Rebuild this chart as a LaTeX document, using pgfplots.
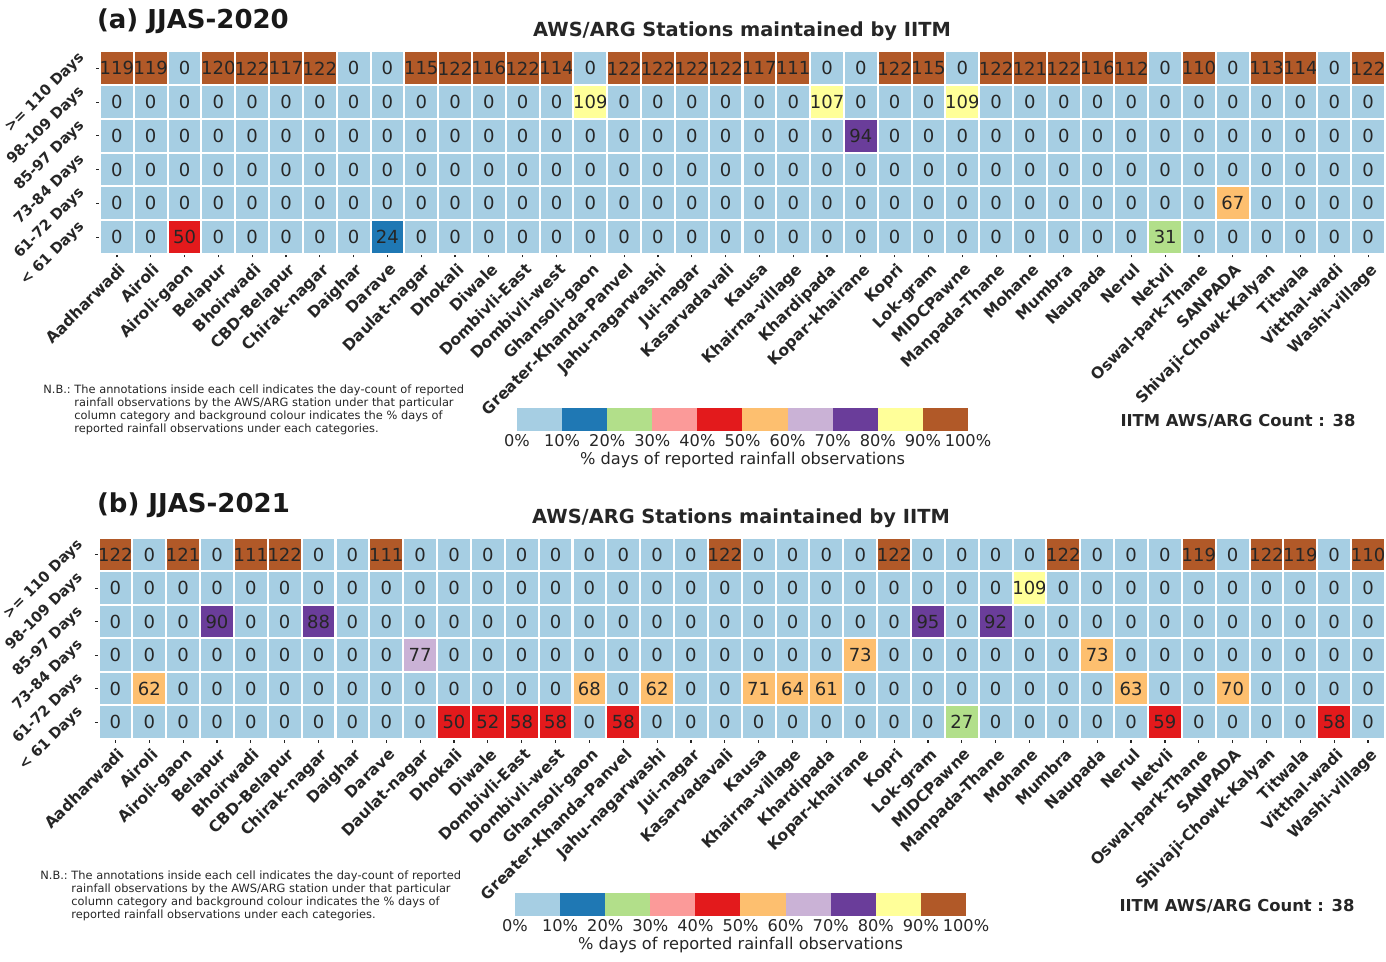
\documentclass[border=0pt]{standalone}
\usepackage{pgfplots}
\pgfplotsset{compat=1.18}
\usepackage{pgfplotstable}
\usepackage{fontspec}
\setmainfont{DejaVu Sans}

% day counts per station (rows of the table = stations, r1 = >=110 days ... r6 = <61 days)
\pgfplotstableread{
r1  r2  r3 r4 r5 r6
119 0   0  0  0  0
119 0   0  0  0  0
0   0   0  0  0  50
120 0   0  0  0  0
122 0   0  0  0  0
117 0   0  0  0  0
122 0   0  0  0  0
0   0   0  0  0  0
0   0   0  0  0  24
115 0   0  0  0  0
122 0   0  0  0  0
116 0   0  0  0  0
122 0   0  0  0  0
114 0   0  0  0  0
0   109 0  0  0  0
122 0   0  0  0  0
122 0   0  0  0  0
122 0   0  0  0  0
122 0   0  0  0  0
117 0   0  0  0  0
111 0   0  0  0  0
0   107 0  0  0  0
0   0   94 0  0  0
122 0   0  0  0  0
115 0   0  0  0  0
0   109 0  0  0  0
122 0   0  0  0  0
121 0   0  0  0  0
122 0   0  0  0  0
116 0   0  0  0  0
112 0   0  0  0  0
0   0   0  0  0  31
110 0   0  0  0  0
0   0   0  0  67 0
113 0   0  0  0  0
114 0   0  0  0  0
0   0   0  0  0  0
122 0   0  0  0  0
}\dA

\pgfplotstableread{
r1  r2  r3 r4 r5 r6
122 0   0  0  0  0
0   0   0  0  62 0
121 0   0  0  0  0
0   0   90 0  0  0
111 0   0  0  0  0
122 0   0  0  0  0
0   0   88 0  0  0
0   0   0  0  0  0
111 0   0  0  0  0
0   0   0  77 0  0
0   0   0  0  0  50
0   0   0  0  0  52
0   0   0  0  0  58
0   0   0  0  0  58
0   0   0  0  68 0
0   0   0  0  0  58
0   0   0  0  62 0
0   0   0  0  0  0
122 0   0  0  0  0
0   0   0  0  71 0
0   0   0  0  64 0
0   0   0  0  61 0
0   0   0  73 0  0
122 0   0  0  0  0
0   0   95 0  0  0
0   0   0  0  0  27
0   0   92 0  0  0
0   109 0  0  0  0
122 0   0  0  0  0
0   0   0  73 0  0
0   0   0  0  63 0
0   0   0  0  0  59
119 0   0  0  0  0
0   0   0  0  70 0
122 0   0  0  0  0
119 0   0  0  0  0
0   0   0  0  0  58
110 0   0  0  0  0
}\dB

\pgfplotsset{
  paired/.style={
    colormap={paired}{rgb255(0cm)=(166,206,227) rgb255(1cm)=(31,120,180)
      rgb255(2cm)=(178,223,138) rgb255(3cm)=(251,154,153) rgb255(4cm)=(227,26,28)
      rgb255(5cm)=(253,191,111) rgb255(6cm)=(202,178,214) rgb255(7cm)=(106,61,154)
      rgb255(8cm)=(255,255,153) rgb255(9cm)=(177,89,40) rgb255(10cm)=(177,89,40)},
    colormap access=piecewise constant,
  },
  heat/.style={
    paired, point meta min=-0.05, point meta max=121.95,
    scale only axis, xmin=0.5, xmax=38.5, ymin=0.5, ymax=6.5, clip=false,
    axis line style={draw=none},
    tick pos=left, tick align=outside, major tick length=1.75pt,
    tick style={black!85, line width=0.6pt},
    xtick={1,...,38},
    xticklabels={Aadharwadi,Airoli,Airoli-gaon,Belapur,Bhoirwadi,CBD-Belapur,Chirak-nagar,Daighar,Darave,Daulat-nagar,Dhokali,Diwale,Dombivli-East,Dombivli-west,Ghansoli-gaon,Greater-Khanda-Panvel,Jahu-nagarwashi,Jui-nagar,Kasarvadavali,Kausa,Khairna-village,Khardipada,Kopar-khairane,Kopri,Lok-gram,MIDCPawne,Manpada-Thane,Mohane,Mumbra,Naupada,Nerul,Netvli,Oswal-park-Thane,SANPADA,Shivaji-Chowk-Kalyan,Titwala,Vitthal-wadi,Washi-village},
    ytick={1,...,6},
    yticklabels={< 61 Days,61-72 Days,73-84 Days,85-97 Days,98-109 Days,>= 110 Days},
    xticklabel style={rotate=45, anchor=north east, inner sep=1pt, text=black!85,
      yshift=-1pt, font=\bfseries\fontsize{7.8}{9}\selectfont},
    yticklabel style={xshift=-6.5pt, yshift=7pt, rotate=45, anchor=east, inner sep=1pt,
      text=black!85, font=\bfseries\fontsize{7.3}{9}\selectfont},
    /pgf/number format/assume math mode=true,
  },
  % the colour key, drawn as ten blocks in an axis of its own
  cbarframe/.style={
    paired, point meta min=0, point meta max=100,
    scale only axis, width=225.5pt, height=11pt, clip=false,
    xmin=0, xmax=100, ymin=0, ymax=1,
    axis line style={draw=none}, major tick length=0pt,
    ytick=\empty,
    xtick={0,10,...,100},
    xticklabels={0\%,10\%,20\%,30\%,40\%,50\%,60\%,70\%,80\%,90\%,100\%},
    xticklabel style={anchor=north, text=black!85, inner sep=2pt,
      font=\fontsize{8.1}{9}\selectfont},
    xlabel={\% days of reported rainfall observations},
    xlabel style={text=black!85, font=\fontsize{8.1}{9}\selectfont, yshift=3pt},
  },
  keyblocks/.style={scatter, only marks, mark=square*, mark size=5.5pt,
    point meta=x, scatter/use mapped color={draw=mapped color, fill=mapped color, line width=0.3pt},
    mark options={xscale=2.03}},
  cells/.style={scatter, only marks, mark=square*, mark size=8.45pt,
    scatter/use mapped color={draw=white, fill=mapped color, line width=1pt},
    nodes near coords*,
    every node near coord/.append style={anchor=center, inner sep=0pt,
      text=black!85, font=\fontsize{9}{11}\selectfont}},
}
\tikzset{nbtext/.style={anchor=north west, inner sep=0pt, text=black!85,
    font=\fontsize{5.7}{6.5}\selectfont}}

\newcommand{\nb}{\begin{tabular}{@{}l@{\ }l@{}}N.B.: & The annotations inside each cell indicates the day-count of reported\\
   & rainfall observations by the AWS/ARG station under that particular\\
   & column category and background colour indicates the \% days of\\
   & reported rainfall observations under each categories.\end{tabular}}

\begin{document}
\begin{tikzpicture}
\path[use as bounding box] (0,0) rectangle (693pt,-481pt);

% ---------------- (a) 2020
\begin{axis}[heat, at={(50pt,-127pt)}, anchor=south west,
  width=642.5pt, height=101.25pt]
\pgfplotsinvokeforeach{1,...,6}{
  \addplot[cells, point meta=\thisrow{r#1}] table[x expr=\coordindex+1, y expr=7-#1] {\dA};
}
\end{axis}
\begin{axis}[cbarframe, at={(258.5pt,-204pt)}, anchor=north west]
\addplot[keyblocks] coordinates {(5,0.5) (15,0.5) (25,0.5) (35,0.5) (45,0.5) (55,0.5) (65,0.5) (75,0.5) (85,0.5) (95,0.5)};
\end{axis}
\node[anchor=west, text=black!90, font=\bfseries\fontsize{13}{15}\selectfont] at (45pt,-10.5pt) {(a) JJAS-2020};
\node[text=black!85, font=\bfseries\fontsize{9.7}{11}\selectfont] at (371pt,-15.5pt) {AWS/ARG Stations maintained by IITM};
\node[text=black!85, font=\bfseries\fontsize{8.2}{10}\selectfont] at (619pt,-210.5pt) {IITM AWS/ARG Count : 38};
\node[nbtext] at (21.5pt,-192pt) {\nb};

% ---------------- (b) 2021
\begin{axis}[heat, at={(49.25pt,-369.5pt)}, anchor=south west,
  width=643.25pt, height=100.5pt]
\pgfplotsinvokeforeach{1,...,6}{
  \addplot[cells, point meta=\thisrow{r#1}] table[x expr=\coordindex+1, y expr=7-#1] {\dB};
}
\end{axis}
\begin{axis}[cbarframe, at={(257.5pt,-446.5pt)}, anchor=north west]
\addplot[keyblocks] coordinates {(5,0.5) (15,0.5) (25,0.5) (35,0.5) (45,0.5) (55,0.5) (65,0.5) (75,0.5) (85,0.5) (95,0.5)};
\end{axis}
\node[anchor=west, text=black!90, font=\bfseries\fontsize{13}{15}\selectfont] at (45pt,-252.5pt) {(b) JJAS-2021};
\node[text=black!85, font=\bfseries\fontsize{9.7}{11}\selectfont] at (370.5pt,-259pt) {AWS/ARG Stations maintained by IITM};
\node[text=black!85, font=\bfseries\fontsize{8.2}{10}\selectfont] at (618.5pt,-453pt) {IITM AWS/ARG Count : 38};
\node[nbtext] at (20pt,-435pt) {\nb};
\end{tikzpicture}
\end{document}
